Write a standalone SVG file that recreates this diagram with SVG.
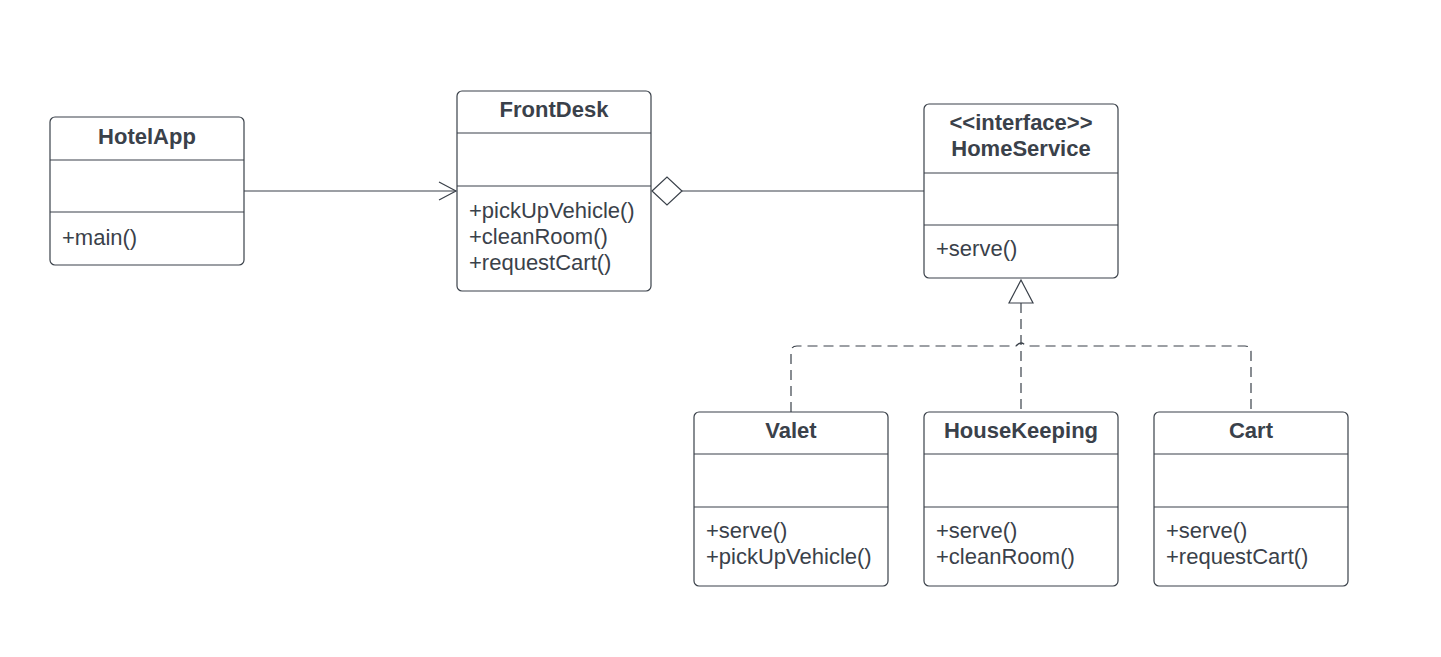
<svg xmlns="http://www.w3.org/2000/svg" width="1441" height="657" viewBox="0 0 1441 657">
<style>
.box{fill:#ffffff;stroke:#3a414a;stroke-width:1.2}
.div{stroke:#3a414a;stroke-width:1.2}
.t{font-family:"Liberation Sans",Arial,sans-serif;font-size:22px;fill:#3a414a}
.b{font-weight:bold;text-anchor:middle}
.ln{fill:none;stroke:#3a414a;stroke-width:1.2}
.dash{fill:none;stroke:#3a414a;stroke-width:1.2;stroke-dasharray:10,6}
</style>
<rect width="1441" height="657" fill="#ffffff"/>
<g id="HotelApp">
<rect class="box" x="50" y="117" width="194" height="148" rx="5"/>
<line class="div" x1="50" y1="160" x2="244" y2="160"/>
<line class="div" x1="50" y1="212" x2="244" y2="212"/>
<text class="t b" x="147" y="144">HotelApp</text>
<text class="t" x="62" y="245">+main()</text>
</g>
<g id="FrontDesk">
<rect class="box" x="457" y="91" width="194" height="200" rx="5"/>
<line class="div" x1="457" y1="133" x2="651" y2="133"/>
<line class="div" x1="457" y1="186" x2="651" y2="186"/>
<text class="t b" x="554" y="117">FrontDesk</text>
<text class="t" x="469" y="218">+pickUpVehicle()</text>
<text class="t" x="469" y="244">+cleanRoom()</text>
<text class="t" x="469" y="270">+requestCart()</text>
</g>
<g id="HomeService">
<rect class="box" x="924" y="104" width="194" height="174" rx="5"/>
<line class="div" x1="924" y1="173" x2="1118" y2="173"/>
<line class="div" x1="924" y1="225" x2="1118" y2="225"/>
<text class="t b" x="1021" y="130">&lt;&lt;interface&gt;&gt;</text>
<text class="t b" x="1021" y="156">HomeService</text>
<text class="t" x="936" y="256">+serve()</text>
</g>
<g id="Valet">
<rect class="box" x="694" y="412" width="194" height="174" rx="5"/>
<line class="div" x1="694" y1="454" x2="888" y2="454"/>
<line class="div" x1="694" y1="507" x2="888" y2="507"/>
<text class="t b" x="791" y="438">Valet</text>
<text class="t" x="706" y="538">+serve()</text>
<text class="t" x="706" y="564">+pickUpVehicle()</text>
</g>
<g id="HouseKeeping">
<rect class="box" x="924" y="412" width="194" height="174" rx="5"/>
<line class="div" x1="924" y1="454" x2="1118" y2="454"/>
<line class="div" x1="924" y1="507" x2="1118" y2="507"/>
<text class="t b" x="1021" y="438">HouseKeeping</text>
<text class="t" x="936" y="538">+serve()</text>
<text class="t" x="936" y="564">+cleanRoom()</text>
</g>
<g id="Cart">
<rect class="box" x="1154" y="412" width="194" height="174" rx="5"/>
<line class="div" x1="1154" y1="454" x2="1348" y2="454"/>
<line class="div" x1="1154" y1="507" x2="1348" y2="507"/>
<text class="t b" x="1251" y="438">Cart</text>
<text class="t" x="1166" y="538">+serve()</text>
<text class="t" x="1166" y="564">+requestCart()</text>
</g>
<g id="connectors">
<line class="ln" x1="244" y1="191" x2="456" y2="191"/>
<polyline class="ln" points="439,182 456,191 439,200"/>
<polygon class="ln" fill="#ffffff" points="652,191 667,177 682,191 667,205"/>
<line class="ln" x1="682" y1="191" x2="924" y2="191"/>
<polygon class="ln" fill="#ffffff" points="1021,280 1009,303 1033,303"/>
<line class="dash" x1="1021" y1="303" x2="1021" y2="412"/>
<path class="dash" d="M791,412 V352 Q791,346 797,346 H1016 Q1021,340 1026,346 H1245 Q1251,346 1251,352 V412"/>
</g>
</svg>
